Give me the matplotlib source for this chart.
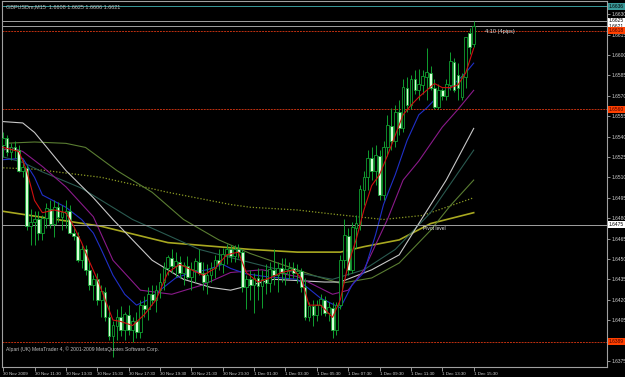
import numpy as np
import matplotlib
matplotlib.use("Agg")
import matplotlib.pyplot as plt

plt.rcParams['font.family'] = ['Liberation Sans', 'DejaVu Sans']

# GBPUSDm M15 candles, 30 Nov 2009 09:30 .. 1 Dec 2009 15:30
opens = [1.6534, 1.6539, 1.6529, 1.6532, 1.6530, 1.6515, 1.6517, 1.6474, 1.6477, 1.6479,
         1.6469, 1.6480, 1.6487, 1.6476, 1.6488, 1.6481, 1.6484, 1.6485, 1.6469, 1.6467,
         1.6449, 1.6457, 1.6442, 1.6431, 1.6435, 1.6420, 1.6426, 1.6407, 1.6393, 1.6401,
         1.6407, 1.6398, 1.6409, 1.6398, 1.6404, 1.6396, 1.6416, 1.6413, 1.6424, 1.6420,
         1.6427, 1.6433, 1.6443, 1.6451, 1.6445, 1.6448, 1.6440, 1.6445, 1.6437, 1.6442,
         1.6448, 1.6440, 1.6433, 1.6438, 1.6443, 1.6449, 1.6446, 1.6453, 1.6457, 1.6452,
         1.6457, 1.6455, 1.6429, 1.6435, 1.6431, 1.6436, 1.6430, 1.6435, 1.6432, 1.6442,
         1.6438, 1.6443, 1.6440, 1.6442, 1.6443, 1.6440, 1.6441, 1.6429, 1.6407, 1.6415,
         1.6409, 1.6416, 1.6420, 1.6410, 1.6414, 1.6398, 1.6416, 1.6449, 1.6467, 1.6442,
         1.6473, 1.6476, 1.6501, 1.6510, 1.6524, 1.6515, 1.6526, 1.6497, 1.6532, 1.6548,
         1.6537, 1.6558, 1.6546, 1.6576, 1.6563, 1.6582, 1.6574, 1.6578, 1.6584, 1.6587,
         1.6576, 1.6562, 1.6574, 1.6570, 1.6578, 1.6595, 1.6585, 1.6569, 1.6584, 1.6616,
         1.6608]
highs = [1.6543, 1.6541, 1.6535, 1.6537, 1.6534, 1.6523, 1.6519, 1.6487, 1.6485, 1.6485,
         1.6482, 1.6491, 1.6493, 1.6493, 1.6492, 1.6490, 1.6493, 1.6490, 1.6473, 1.6470,
         1.6460, 1.6460, 1.6448, 1.6438, 1.6440, 1.6431, 1.6429, 1.6416, 1.6404, 1.6413,
         1.6415, 1.6411, 1.6416, 1.6407, 1.6411, 1.6420, 1.6423, 1.6429, 1.6431, 1.6431,
         1.6440, 1.6448, 1.6453, 1.6457, 1.6455, 1.6452, 1.6448, 1.6452, 1.6448, 1.6451,
         1.6457, 1.6448, 1.6446, 1.6448, 1.6453, 1.6457, 1.6458, 1.6461, 1.6460, 1.6460,
         1.6461, 1.6457, 1.6438, 1.6442, 1.6440, 1.6443, 1.6442, 1.6446, 1.6448, 1.6457,
         1.6448, 1.6451, 1.6451, 1.6448, 1.6448, 1.6446, 1.6443, 1.6436, 1.6418, 1.6420,
         1.6420, 1.6424, 1.6423, 1.6418, 1.6418, 1.6418, 1.6453, 1.6479, 1.6473, 1.6477,
         1.6482, 1.6504, 1.6515, 1.6530, 1.6532, 1.6534, 1.6530, 1.6537, 1.6556, 1.6561,
         1.6563, 1.6567, 1.6582, 1.6584, 1.6585, 1.6589, 1.6590, 1.6589, 1.6605, 1.6592,
         1.6582, 1.6579, 1.6576, 1.6582, 1.6602, 1.6598, 1.6594, 1.6587, 1.6613, 1.6620,
         1.6625]
lows = [1.6525, 1.6526, 1.6523, 1.6524, 1.6514, 1.6510, 1.6471, 1.6460, 1.6460, 1.6464,
        1.6464, 1.6473, 1.6473, 1.6466, 1.6477, 1.6471, 1.6473, 1.6468, 1.6464, 1.6448,
        1.6443, 1.6438, 1.6427, 1.6420, 1.6416, 1.6407, 1.6404, 1.6390, 1.6378, 1.6390,
        1.6393, 1.6390, 1.6394, 1.6389, 1.6392, 1.6392, 1.6407, 1.6405, 1.6416, 1.6411,
        1.6421, 1.6427, 1.6438, 1.6440, 1.6437, 1.6436, 1.6431, 1.6435, 1.6427, 1.6433,
        1.6438, 1.6427, 1.6424, 1.6433, 1.6436, 1.6442, 1.6440, 1.6446, 1.6448, 1.6448,
        1.6451, 1.6426, 1.6413, 1.6420, 1.6410, 1.6420, 1.6414, 1.6424, 1.6426, 1.6431,
        1.6426, 1.6433, 1.6431, 1.6435, 1.6436, 1.6432, 1.6426, 1.6405, 1.6404, 1.6401,
        1.6404, 1.6409, 1.6408, 1.6404, 1.6392, 1.6394, 1.6413, 1.6443, 1.6438, 1.6440,
        1.6458, 1.6471, 1.6490, 1.6501, 1.6508, 1.6504, 1.6493, 1.6493, 1.6526, 1.6530,
        1.6532, 1.6541, 1.6543, 1.6558, 1.6560, 1.6571, 1.6567, 1.6571, 1.6567, 1.6574,
        1.6560, 1.6560, 1.6567, 1.6567, 1.6574, 1.6573, 1.6567, 1.6567, 1.6576, 1.6601,
        1.6606]
closes = [1.6539, 1.6529, 1.6532, 1.6530, 1.6515, 1.6517, 1.6474, 1.6477, 1.6479, 1.6469,
          1.6480, 1.6487, 1.6476, 1.6488, 1.6481, 1.6484, 1.6485, 1.6469, 1.6467, 1.6449,
          1.6457, 1.6442, 1.6431, 1.6435, 1.6420, 1.6426, 1.6407, 1.6393, 1.6401, 1.6407,
          1.6398, 1.6409, 1.6398, 1.6404, 1.6396, 1.6416, 1.6413, 1.6424, 1.6420, 1.6427,
          1.6433, 1.6443, 1.6451, 1.6445, 1.6448, 1.6440, 1.6445, 1.6437, 1.6442, 1.6448,
          1.6440, 1.6433, 1.6438, 1.6443, 1.6449, 1.6446, 1.6453, 1.6457, 1.6452, 1.6457,
          1.6455, 1.6429, 1.6435, 1.6431, 1.6436, 1.6430, 1.6435, 1.6432, 1.6442, 1.6438,
          1.6443, 1.6440, 1.6442, 1.6443, 1.6440, 1.6441, 1.6429, 1.6407, 1.6415, 1.6409,
          1.6416, 1.6420, 1.6410, 1.6414, 1.6398, 1.6416, 1.6449, 1.6467, 1.6442, 1.6473,
          1.6476, 1.6501, 1.6510, 1.6524, 1.6515, 1.6526, 1.6497, 1.6532, 1.6548, 1.6537,
          1.6558, 1.6546, 1.6576, 1.6563, 1.6582, 1.6574, 1.6578, 1.6584, 1.6587, 1.6576,
          1.6562, 1.6574, 1.6570, 1.6578, 1.6595, 1.6574, 1.6576, 1.6584, 1.6613, 1.6606,
          1.6621]

# moving averages (bar index, price)
red_bars = [0, 4, 6, 8, 10, 13, 16, 18, 20, 22, 24, 26, 28, 30, 33, 36, 39, 42, 45, 48,
            51, 54, 57, 60, 62, 65, 68, 71, 74, 76, 78, 81, 84, 86, 88, 90, 92, 94, 96, 98,
            100, 102, 104, 106, 108, 110, 112, 114, 116, 118, 120]
red_vals = [1.6532, 1.6529, 1.6515, 1.6493, 1.6484, 1.6486, 1.6484, 1.6474, 1.6462, 1.6448,
            1.6435, 1.6420, 1.6405, 1.6404, 1.6401, 1.6409, 1.6420, 1.6440, 1.6446, 1.6442,
            1.6438, 1.6443, 1.6453, 1.6455, 1.6440, 1.6433, 1.6436, 1.6440, 1.6442, 1.6436,
            1.6416, 1.6416, 1.6407, 1.6420, 1.6446, 1.6464, 1.6486, 1.6504, 1.6512, 1.6526,
            1.6541, 1.6556, 1.6563, 1.6569, 1.6574, 1.6579, 1.6576, 1.6576, 1.6578, 1.6587,
            1.6605]
blue_bars = [0, 5, 8, 10, 16, 20, 23, 25, 28, 31, 34, 37, 40, 44, 48, 52, 56, 58, 62, 67,
             75, 81, 86, 89, 92, 95, 97, 100, 103, 106, 108, 110, 114, 118, 120]
blue_vals = [1.6523, 1.6524, 1.6510, 1.6497, 1.6488, 1.6479, 1.6469, 1.6457, 1.6438, 1.6424,
             1.6416, 1.6420, 1.6427, 1.6436, 1.6440, 1.6442, 1.6446, 1.6443, 1.6439, 1.6437,
             1.6435, 1.6421, 1.6414, 1.6431, 1.6440, 1.6468, 1.6490, 1.6512, 1.6537, 1.6556,
             1.6561, 1.6567, 1.6576, 1.6587, 1.6594]
purple_bars = [0, 2, 5, 10, 16, 23, 28, 35, 43, 51, 58, 66, 75, 84, 88, 92, 98, 102, 106,
               112, 116, 120]
purple_vals = [1.6530, 1.6532, 1.6529, 1.6518, 1.6503, 1.6481, 1.6449, 1.6427, 1.6424, 1.6431,
               1.6440, 1.6442, 1.6437, 1.6424, 1.6427, 1.6442, 1.6479, 1.6508, 1.6522, 1.6547,
               1.6560, 1.6574]
teal_bars = [0, 5, 10, 20, 33, 50, 58, 69, 84, 92, 100, 109, 120]
teal_vals = [1.6525, 1.6521, 1.6514, 1.6502, 1.6479, 1.6457, 1.6451, 1.6443, 1.6435, 1.6442,
             1.6457, 1.6484, 1.6530]
white_bars = [0, 5, 8, 16, 23, 28, 33, 38, 46, 53, 58, 69, 82, 86, 94, 101, 106, 113, 120]
white_vals = [1.6551, 1.6550, 1.6543, 1.6515, 1.6495, 1.6479, 1.6464, 1.6449, 1.6435, 1.6429,
              1.6427, 1.6435, 1.6433, 1.6433, 1.6442, 1.6453, 1.6476, 1.6508, 1.6546]
olive_bars = [0, 8, 16, 21, 29, 38, 46, 55, 63, 71, 79, 86, 94, 101, 109, 114, 120]
olive_vals = [1.6535, 1.6536, 1.6535, 1.6532, 1.6515, 1.6499, 1.6479, 1.6464, 1.6454, 1.6446,
              1.6438, 1.6432, 1.6436, 1.6447, 1.6471, 1.6489, 1.6508]
dotted_bars = [0, 8, 25, 42, 58, 63, 75, 84, 97, 107, 120]
dotted_vals = [1.6517, 1.6516, 1.6510, 1.6499, 1.6490, 1.6488, 1.6486, 1.6483, 1.6479, 1.6482,
               1.6495]
yellow_bars = [0, 25, 42, 63, 75, 86, 92, 101, 109, 120]
yellow_vals = [1.6485, 1.6474, 1.6462, 1.6457, 1.6455, 1.6455, 1.6459, 1.6464, 1.6476, 1.6484]

# horizontal levels
level_prices = [1.6636, 1.6625, 1.6621, 1.6618, 1.6560, 1.6475, 1.6389]
level_kinds = ['teal', 'grey', 'grey', 'red', 'red', 'grey', 'red']

price_ticks = [1.6375, 1.6405, 1.6420, 1.6435, 1.6450, 1.6465, 1.6480, 1.6495, 1.6510,
               1.6525, 1.6540, 1.6555, 1.6570, 1.6585, 1.6600, 1.6615, 1.6630]
time_label_bars = [0, 8, 16, 24, 32, 40, 48, 56, 64, 72, 80, 88, 96, 104, 112, 120]
time_labels = ["30 Nov 2009", "30 Nov 11:30", "30 Nov 13:30", "30 Nov 15:30", "30 Nov 17:30",
               "30 Nov 19:30", "30 Nov 21:30", "30 Nov 23:30", "1 Dec 01:30", "1 Dec 03:30",
               "1 Dec 05:30", "1 Dec 07:30", "1 Dec 09:30", "1 Dec 11:30", "1 Dec 13:30",
               "1 Dec 15:30"]

o = np.array(opens)
h = np.array(highs)
l = np.array(lows)
c = np.array(closes)
idx = np.arange(len(o))
up = c >= o

fig = plt.figure(figsize=(6.25, 3.77), dpi=100, facecolor='black')
ax = fig.add_axes([2 / 625, 10 / 377, 605 / 625, 366 / 377], facecolor='black')

wick = '#10a030'
# moving averages behind candles
ax.plot(yellow_bars, yellow_vals, color='#a8a820', lw=1.2)
ax.plot(dotted_bars, dotted_vals, color='#8c9c24', lw=0.9, ls=(0, (1, 1.5)))
ax.plot(olive_bars, olive_vals, color='#5a7d32', lw=0.8)
ax.plot(teal_bars, teal_vals, color='#2a5a50', lw=0.8)
ax.plot(white_bars, white_vals, color='#c8c8c8', lw=0.8)
ax.plot(purple_bars, purple_vals, color='#8a1a8a', lw=0.8)
ax.plot(blue_bars, blue_vals, color='#2030c8', lw=0.8)

ax.vlines(idx, l, h, color=wick, lw=0.7, zorder=3)
ax.bar(idx[up], c[up] - o[up] + 0.00003, bottom=o[up], width=0.7, color='black',
       edgecolor=wick, linewidth=0.6, zorder=4)
ax.bar(idx[~up], o[~up] - c[~up], bottom=c[~up], width=0.7, color='#d8ffd8',
       edgecolor=wick, linewidth=0.6, zorder=4)
ax.plot(red_bars, red_vals, color='#d01010', lw=0.8, zorder=5)

for p, kind in zip(level_prices, level_kinds):
    if kind == 'teal':
        ax.axhline(p, color='#3a9a9a', lw=0.7)
        bg, fg = '#3a9a9a', 'black'
    elif kind == 'grey':
        ax.axhline(p, color='#a0a0a0', lw=0.7)
        bg, fg = 'white', 'black'
    else:
        ax.axhline(p, color='#c03010', lw=0.7, ls=(0, (2, 1)))
        bg, fg = '#ff4000', '#400000'
    ax.text(1.003, p, f"{p:.4f}", transform=ax.get_yaxis_transform(), fontsize=3.5,
            color=fg, va='center', ha='left', clip_on=False, zorder=10,
            bbox=dict(boxstyle='square,pad=0.2', fc=bg, ec='none'))

ax.text(107, 1.6474, "Pivot level", fontsize=3.5, color='#e0e0e0', va='top', ha='left')
ax.text(123, 1.6617, "4:10 (4pips)", fontsize=4, color='#e0e0e0', va='center', ha='left')
ax.text(0.006, 0.984, "GBPUSDm,M15  1.6608 1.6625 1.6606 1.6621", transform=ax.transAxes,
        fontsize=4, color='#c0c0c0', va='center', ha='left')
ax.text(0.006, 0.05, "Alpari (UK) MetaTrader 4, \u00a9 2001-2009 MetaQuotes Software Corp.",
        transform=ax.transAxes, fontsize=3.6, color='#c0c0c0', va='center', ha='left')

ax.set_xlim(-0.3, 154.0)
ax.set_ylim(1.63705, 1.66397)

ax.yaxis.tick_right()
ax.set_yticks(price_ticks)
ax.set_yticklabels([f"{t:.4f}" for t in price_ticks])
ax.tick_params(axis='y', colors='#d0d0d0', labelsize=3.5, length=2, width=0.5, pad=1)
ax.set_xticks(time_label_bars)
ax.set_xticklabels(time_labels)
ax.tick_params(axis='x', colors='#d0d0d0', labelsize=3.2, length=3, width=0.5, pad=0.5)
for t in ax.get_xticklabels():
    t.set_horizontalalignment('left')
for s in ax.spines.values():
    s.set_color('#a0a0a0')
    s.set_linewidth(0.8)

fig.savefig("out.png", dpi=100, facecolor='black')
